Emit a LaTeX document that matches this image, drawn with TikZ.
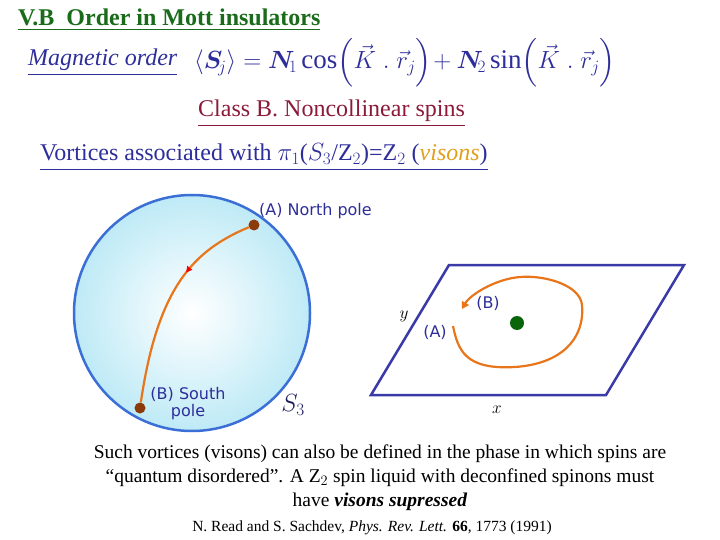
\documentclass[tikz,border=0pt]{standalone}
\usepackage{amsmath,amssymb}
\usepackage{bm}
\usepackage{fontspec}
\setmainfont{Liberation Serif}
\newfontfamily\lblfont{DejaVu Sans}
\usetikzlibrary{arrows.meta,decorations.markings}
\definecolor{tgreen}{HTML}{1A6B1A}
\definecolor{tblue}{HTML}{2E2E9A}
\definecolor{tred}{HTML}{8B1A3A}
\definecolor{torange}{HTML}{E8751A}
\definecolor{tvis}{HTML}{E0A020}
\definecolor{pblue}{HTML}{3A3AA8}
\definecolor{sblue}{HTML}{3B6FD6}
\definecolor{sfill}{HTML}{BEEAF6}
\definecolor{dotbrown}{HTML}{8B3A0A}
\definecolor{dotgreen}{HTML}{0A640A}
\tikzset{
  ul/.style={inner sep=0pt, anchor=base west},
  lbl/.style={font=\lblfont\fontsize{16}{17}\selectfont, text=tblue, inner sep=1pt},
  curve/.style={draw=torange, line width=2.2pt},
  pole/.style={circle, fill=dotbrown, inner sep=0pt, minimum size=11pt},
  body/.style={font=\fontsize{19.5}{24}\selectfont, align=center, inner sep=0pt}
}
\begin{document}
\begin{tikzpicture}[x=1pt,y=-1pt]
\useasboundingbox (0,0) rectangle (720,540);
% title
\node[ul, text=tgreen, font=\bfseries\fontsize{24}{26}\selectfont] (title) at (18,26) {\underline{V.B\ \ Order in Mott insulators}};
\node[ul, text=tblue, font=\itshape\fontsize{24}{26}\selectfont] (mag) at (28,66) {\underline{Magnetic order}};
\node[ul, text=tblue, font=\fontsize{27}{29}\selectfont] (eq) at (194,69)
 {$\left\langle \bm{S}_{\!j}\right\rangle = \bm{N}_{\!1}\cos\!\Big(\vec{K}\ .\ \vec{r}_{j}\Big)\!+\bm{N}_{\!2}\sin\!\Big(\vec{K}\ .\ \vec{r}_{j}\Big)$};
\node[ul, text=tred, font=\fontsize{24}{26}\selectfont] (cls) at (198,117) {\underline{Class B. Noncollinear spins}};
\node[ul, text=tblue, font=\fontsize{24}{26}\selectfont] (vort) at (40,161)
 {\underline{Vortices associated with $\pi_1$($S_3$/Z$_2$)=Z$_2$ (\textcolor{tvis}{\textit{visons}})}};
% sphere
\shade[inner color=white, outer color=sfill] (192,313) circle[radius=118];
\draw[sblue, line width=2.5pt] (192,313) circle[radius=118];
\node[pole] (N) at (254,225) {};
\node[pole] (S) at (140,408) {};
\draw[curve, postaction={decorate}, decoration={markings, mark=at position 0.36 with {\arrow[red]{Triangle[length=6pt,width=6pt]}}}]
  (N) .. controls (195,250) and (158,285) .. (S);
\node[lbl, anchor=west] (Nl) at (258,211) {(A) North pole};
\node[lbl, align=center] (Sl) at (188,404) {(B) South\\pole};
\node[font=\itshape\fontsize{24}{26}\selectfont, text=tblue!60!black] (S3) at (293,405) {$S_3$};
% plane
\coordinate (p1) at (371,395); \coordinate (p2) at (449,265);
\coordinate (p3) at (684,265); \coordinate (p4) at (606,395);
\draw[pblue, line width=2.5pt, line join=miter] (p1) -- (p2) -- (p3) -- (p4) -- cycle;
\node[font=\itshape\fontsize{18}{20}\selectfont] (ylab) at (404,316) {$y$};
\node[font=\itshape\fontsize{18}{20}\selectfont] (xlab) at (497,410) {$x$};
\coordinate (cA) at (453,326);
\coordinate (cB) at (462,309);
\draw[curve, -{Triangle[length=7pt,width=8pt]}] (cA) .. controls (458,350) and (465,370) .. (515,367)
  .. controls (560,364) and (585,340) .. (582,305)
  .. controls (580,285) and (545,275) .. (520,277)
  .. controls (495,279) and (470,295) .. (cB);
\node[circle, fill=dotgreen, inner sep=0pt, minimum size=14pt] (vdot) at (517,323) {};
\node[lbl, anchor=center] (Al) at (435,332) {(A)};
\node[lbl, anchor=center] (Bl) at (488,303) {(B)};
% text
\node[body] (para) at (380,478) {Such vortices (visons) can also be defined in the phase in which spins are\\
``quantum disordered''. A Z$_2$ spin liquid with deconfined spinons must\\
have \textbf{\textit{visons supressed}}};
\node[font=\fontsize{15.5}{17}\selectfont, inner sep=0pt] (ref) at (372,528) {N. Read and S. Sachdev, \textit{Phys. Rev. Lett.} \textbf{66}, 1773 (1991)};
\end{tikzpicture}
\end{document}
